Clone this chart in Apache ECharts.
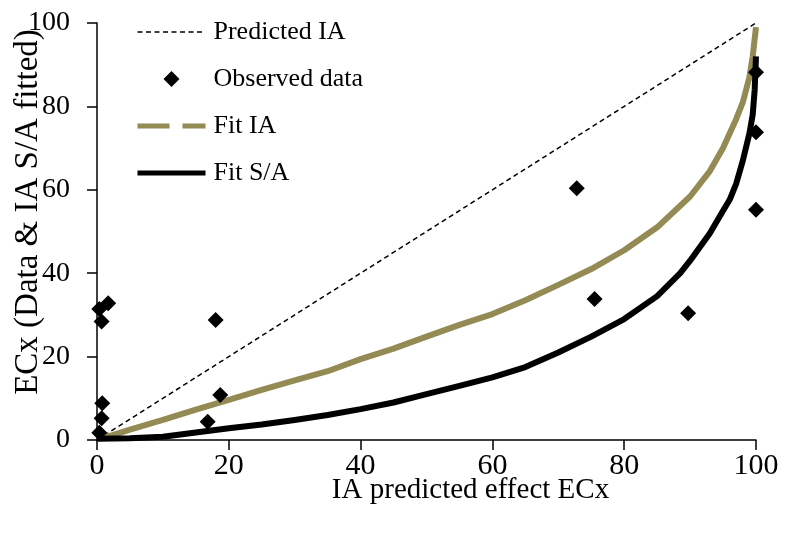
<!DOCTYPE html>
<html>
<head>
<meta charset="utf-8">
<script src="https://cdn.jsdelivr.net/npm/echarts@6/dist/echarts.min.js"></script>
<style>
  html, body { margin: 0; padding: 0; background: #fff; }
  #chart { width: 786px; height: 538px; }
</style>
</head>
<body>
<div id="chart"></div>
<script>
// Independent-action prediction: the 1:1 line
const predictedX = [0, 100];
const predictedY = [0, 100];

// Observed mixture ECx values against the IA prediction
const observedX = [0.35, 0.7, 0.8, 0.7, 0.35, 1.7, 18.0, 18.7, 16.8, 72.8, 75.5, 89.7, 100, 100, 100];
const observedY = [1.75, 5.2, 8.8, 28.4, 31.4, 32.8, 28.8, 10.8, 4.4, 60.4, 33.8, 30.4, 55.2, 73.8, 88.2];

// Fitted IA curve
const fitIAX = [0, 2, 5, 10, 15, 20, 25, 30, 35, 40, 45, 50, 55, 60, 65, 70, 75, 80, 85, 90, 93, 95, 97, 98, 99, 99.5, 100];
const fitIAY = [0.5, 1, 2.5, 4.8, 7.3, 9.6, 12, 14.3, 16.5, 19.4, 21.9, 24.8, 27.6, 30.2, 33.5, 37.2, 41, 45.5, 51, 58.4, 64.5, 70, 77, 81, 87, 92, 99];

// Fitted S/A curve
const fitSAX = [0, 5, 10, 15, 20, 25, 30, 35, 40, 45, 50, 55, 60, 65, 70, 75, 80, 85, 88.5, 90, 93, 95, 96, 97, 98, 99, 99.5, 99.8, 100];
const fitSAY = [0.3, 0.4, 0.8, 1.8, 2.8, 3.7, 4.8, 6, 7.4, 9, 11, 13, 15, 17.5, 21, 24.8, 29, 34.5, 40, 43, 49.6, 55, 57.6, 61.5, 67, 73.5, 78, 84, 92];

const xTicks = [0, 20, 40, 60, 80, 100];
const yTicks = [0, 20, 40, 60, 80, 100];

const xTitle = 'IA predicted effect ECx';
const yTitle = 'ECx (Data & IA S/A fitted)';

const pairs = (xs, ys) => xs.map((x, i) => [x, ys[i]]);

const FONT = '"Liberation Serif", "Times New Roman", serif';
const TAN = '#948A54';

// Diamond centred in a 68x16 box so the legend icon keeps its shape
const LEGEND_DIAMOND = 'path://M0 0M68 16M34 0L42 8L34 16L26 8Z';

const chart = echarts.init(document.getElementById('chart'), null, { renderer: 'canvas' });

const axisCommon = {
  type: 'value',
  axisLine: { show: true, onZero: false, lineStyle: { color: '#000', width: 1.5 } },
  axisTick: { show: true, inside: false, length: 10, lineStyle: { color: '#000', width: 1.5 } },
  splitLine: { show: false },
  nameLocation: 'middle',
  nameMoveOverlap: false
};

const hiddenMarker = { opacity: 0, color: 'rgba(0,0,0,0)', borderWidth: 0 };

chart.setOption({
  animation: false,
  backgroundColor: '#fff',
  textStyle: { fontFamily: FONT },
  grid: { left: 97, right: 30, top: 23, bottom: 98, containLabel: false, outerBoundsMode: 'none' },
  legend: {
    orient: 'vertical',
    left: 135,
    top: 18,
    padding: 0,
    itemWidth: 68,
    itemHeight: 16,
    itemGap: 19,
    textStyle: { fontFamily: FONT, fontSize: 26, color: '#000', lineHeight: 28, padding: [0, 0, 0, 3] },
    lineStyle: { width: 'inherit' },
    data: [
      { name: 'Predicted IA', itemStyle: hiddenMarker },
      { name: 'Observed data', icon: LEGEND_DIAMOND, itemStyle: { color: '#000' } },
      { name: 'Fit IA', itemStyle: hiddenMarker, lineStyle: { type: [32, 13], width: 5 } },
      { name: 'Fit S/A', itemStyle: hiddenMarker, lineStyle: { width: 5 } }
    ]
  },
  // Vertical axis title, placed beside the value labels
  graphic: [
    {
      type: 'text',
      x: 28,
      y: 212,
      rotation: Math.PI / 2,
      style: {
        text: yTitle,
        fontFamily: FONT,
        fontSize: 33,
        fill: '#000',
        align: 'center',
        verticalAlign: 'middle'
      },
      silent: true
    }
  ],
  xAxis: Object.assign({}, axisCommon, {
    min: xTicks[0],
    max: xTicks[xTicks.length - 1],
    interval: xTicks[1] - xTicks[0],
    name: xTitle,
    nameGap: 36,
    nameTextStyle: { fontFamily: FONT, fontSize: 29, color: '#000', padding: [0, 0, 0, 88] },
    axisLabel: { margin: 11, fontFamily: FONT, fontSize: 30, color: '#000' }
  }),
  yAxis: Object.assign({}, axisCommon, {
    min: yTicks[0],
    max: yTicks[yTicks.length - 1],
    interval: yTicks[1] - yTicks[0],
    axisLabel: {
      margin: 8,
      padding: [0, 19, 0, 0],
      align: 'right',
      verticalAlign: 'middle',
      fontFamily: FONT,
      fontSize: 28,
      color: '#000'
    }
  }),
  series: [
    {
      name: 'Predicted IA',
      type: 'line',
      data: pairs(predictedX, predictedY),
      symbol: 'none',
      showSymbol: false,
      lineStyle: { color: '#000', width: 1.5, type: [5, 3.5] },
      itemStyle: { color: '#000' },
      z: 2
    },
    {
      name: 'Observed data',
      type: 'scatter',
      data: pairs(observedX, observedY),
      symbol: 'diamond',
      symbolSize: 16,
      itemStyle: { color: '#000', opacity: 1 },
      z: 5
    },
    {
      name: 'Fit IA',
      type: 'line',
      data: pairs(fitIAX, fitIAY),
      symbol: 'none',
      showSymbol: false,
      lineStyle: { color: TAN, width: 6, cap: 'butt', join: 'round' },
      itemStyle: { color: TAN },
      z: 3
    },
    {
      name: 'Fit S/A',
      type: 'line',
      data: pairs(fitSAX, fitSAY),
      symbol: 'none',
      showSymbol: false,
      lineStyle: { color: '#000', width: 6, cap: 'butt', join: 'round' },
      itemStyle: { color: '#000' },
      z: 4
    }
  ]
});
</script>
</body>
</html>
